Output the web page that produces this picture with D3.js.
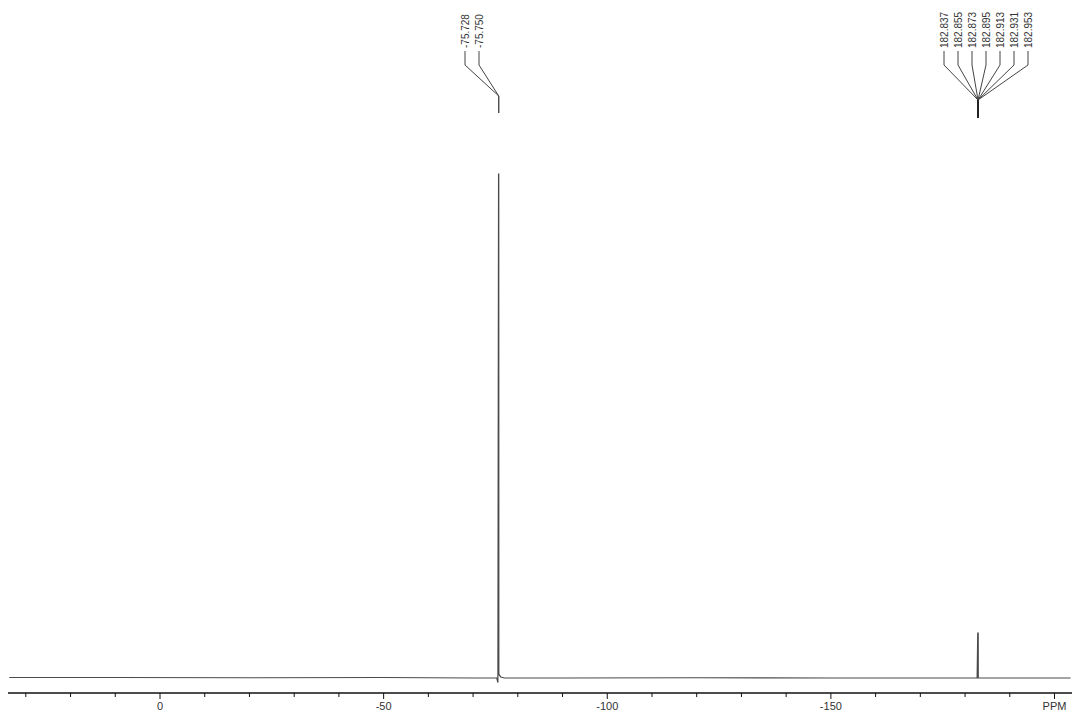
<!DOCTYPE html>
<html>
<head>
<meta charset="utf-8">
<script src="https://cdn.jsdelivr.net/npm/d3@7/dist/d3.min.js"></script>
<style>
html,body{margin:0;padding:0;background:#fff;}
svg{display:block;}
</style>
</head>
<body>
<svg id="chart" width="1072" height="717"></svg>
<script>
// ---- Data ----
// spectrum trace: chemical shift (ppm) and relative intensity
const spectrumPpm = [33.7, 10, -20, -50, -70, -75.3, -75.55, -75.70, -75.72, -75.74, -75.76, -75.85, -76.2, -77, -90, -120, -150, -182.70, -182.84, -182.86, -182.90, -182.94, -182.96, -183.10, -203.6];
const spectrumInt = [0.1, 0.1, 0.05, 0.1, 0.0, 0.0, -0.9, 100, 100, 100, 0.9, 0.6, 0.2, 0.0, 0.0, 0.05, 0.0, 0.0, 8.9, 8.9, 8.9, 8.9, 0.0, 0.0, 0.0];

// peak label groups
const peakGroupA = ["-75.728", "-75.750"];
const peakGroupAPpm = -75.74;
const peakGroupB = ["182.837", "182.855", "182.873", "182.895", "182.913", "182.931", "182.953"];
const peakGroupBPpm = -182.90;

// axis ticks
const minorTicks = [30, 20, 10, 0, -10, -20, -30, -40, -50, -60, -70, -80, -90, -100, -110, -120, -130, -140, -150, -160, -170, -180, -190, -200];
const majorTicks = [0, -50, -100, -150, -200];
const majorTickLabels = ["0", "-50", "-100", "-150", "PPM"];

// ---- Drawing ----
const svg = d3.select("#chart");
const x = d3.scaleLinear().domain([0, -200]).range([160, 1054.5]);
const y = d3.scaleLinear().domain([0, 100]).range([678, 174]);
const axisY = 693;
const ink = "#333";

// spectrum trace
const pts = spectrumPpm.map((p, i) => [p, spectrumInt[i]]);
svg.append("path")
  .datum(pts)
  .attr("fill", "none")
  .attr("stroke", "#4a4a4a")
  .attr("stroke-width", 1.2)
  .attr("d", d3.line().x(d => x(d[0])).y(d => y(d[1])));

// axis
const axisG = svg.append("g");
axisG.append("line")
  .attr("x1", 8).attr("x2", 1072)
  .attr("y1", axisY).attr("y2", axisY)
  .attr("stroke", "#111").attr("stroke-width", 1.5);
axisG.selectAll("line.minor").data(minorTicks).enter().append("line")
  .attr("class", "minor")
  .attr("x1", d => x(d)).attr("x2", d => x(d))
  .attr("y1", axisY).attr("y2", d => majorTicks.includes(d) ? axisY + 6 : axisY + 4)
  .attr("stroke", "#111").attr("stroke-width", 1);
axisG.selectAll("text.tl").data(majorTicks).enter().append("text")
  .attr("class", "tl")
  .attr("x", d => x(d)).attr("y", axisY + 17)
  .attr("text-anchor", "middle")
  .attr("font-family", "Liberation Sans, Arial, sans-serif")
  .attr("font-size", 11)
  .attr("fill", ink)
  .text((d, i) => majorTickLabels[i]);

// peak labels with leader lines
function labelGroup(labels, ppm, firstX, spacing, stemTop, stemBottom) {
  const g = svg.append("g");
  const px = x(ppm);
  labels.forEach((lab, i) => {
    const lx = firstX + i * spacing;
    g.append("text")
      .attr("transform", `translate(${lx + 3.5},48) rotate(-90)`)
      .attr("font-family", "Liberation Sans, Arial, sans-serif")
      .attr("font-size", 10)
      .attr("fill", ink)
      .text(lab);
    g.append("path")
      .attr("fill", "none")
      .attr("stroke", "#444")
      .attr("stroke-width", 1)
      .attr("d", `M${lx},51 L${lx},65 L${px},${stemTop} L${px},${stemBottom}`);
  });
}
labelGroup(peakGroupA, peakGroupAPpm, 465, 14, 96, 113);
labelGroup(peakGroupB, peakGroupBPpm, 944, 14, 100, 118);
svg.append("line")
  .attr("x1", x(peakGroupBPpm)).attr("x2", x(peakGroupBPpm))
  .attr("y1", 100).attr("y2", 118)
  .attr("stroke", "#222").attr("stroke-width", 2);
</script>
</body>
</html>
